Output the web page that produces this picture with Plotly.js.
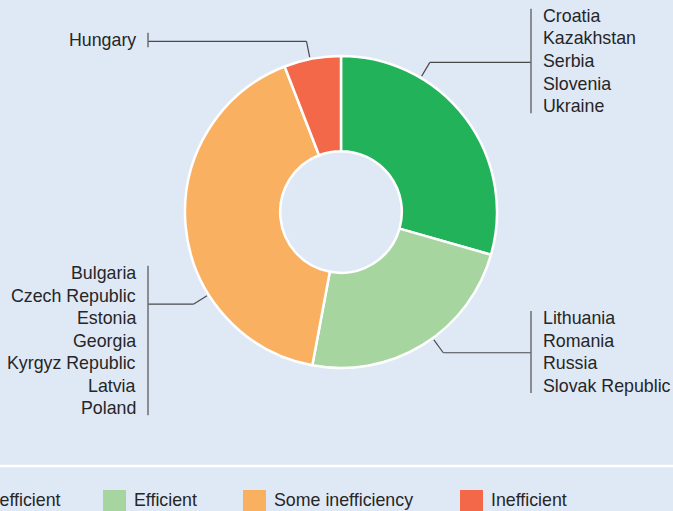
<!DOCTYPE html>
<html><head><meta charset="utf-8">
<script src="https://cdn.plot.ly/plotly-3.0.1.min.js"></script>
<style>html,body{margin:0;padding:0;background:#dfe9f6;overflow:hidden;}#chart{width:673px;height:511px;}</style>
</head><body><div id="chart"></div>
<script>
// ---- data ----
const categories = ['Very efficient', 'Efficient', 'Some inefficiency', 'Inefficient'];
const countryCounts = [5, 4, 7, 1];
const countriesVeryEfficient = ['Croatia', 'Kazakhstan', 'Serbia', 'Slovenia', 'Ukraine'];
const countriesEfficient = ['Lithuania', 'Romania', 'Russia', 'Slovak Republic'];
const countriesSomeInefficiency = ['Bulgaria', 'Czech Republic', 'Estonia', 'Georgia', 'Kyrgyz Republic', 'Latvia', 'Poland'];
const countriesInefficient = ['Hungary'];

// ---- style / layout config ----
const colors = ['#22b259', '#a7d5a0', '#f9b061', '#f26849'];
const groups = [countriesVeryEfficient, countriesEfficient, countriesSomeInefficiency, countriesInefficient];
const W = 673, H = 511, CX = 341, CY = 212, R = 156;
const leaderFrac = [0.29, 0.45, 0.32, 0.46];
const labelSide = ['right', 'right', 'left', 'left'];
const labelCenterY = [61, 352, 340.5, 40];
const bracketX = {right: 531, left: 148};
const textX = {right: 541, left: 138};
const legendSquareX = [-72, 103, 243, 460];
const LINE_H = 22.5;
const FONT = {family: 'Liberation Sans, Arial, sans-serif', size: 17.8, color: '#262626'};

const X = x => x / W;
const Y = y => 1 - y / H;

const shapes = [];
const annotations = [];

const total = countryCounts.reduce((a, b) => a + b, 0);
let cum = 0;
countryCounts.forEach((v, i) => {
  const a0 = cum / total * 360, a1 = (cum + v) / total * 360;
  cum += v;
  const th = (a0 + leaderFrac[i] * (a1 - a0)) * Math.PI / 180;
  const p0 = [CX + (R + 2) * Math.sin(th), CY - (R + 2) * Math.cos(th)];
  const p1 = [CX + (R + 18) * Math.sin(th), CY - (R + 18) * Math.cos(th)];
  const side = labelSide[i];
  const bx = bracketX[side];
  shapes.push({type: 'line', xref: 'paper', yref: 'paper', x0: X(p0[0]), y0: Y(p0[1]), x1: X(p1[0]), y1: Y(p1[1]), line: {color: '#4a4a4a', width: 1.2}});
  shapes.push({type: 'line', xref: 'paper', yref: 'paper', x0: X(p1[0]), y0: Y(p1[1]), x1: X(bx), y1: Y(p1[1]), line: {color: '#4a4a4a', width: 1.2}});
  const n = groups[i].length;
  const half = n * LINE_H / 2 - 4;
  shapes.push({type: 'line', xref: 'paper', yref: 'paper', x0: X(bx), y0: Y(labelCenterY[i] - half), x1: X(bx), y1: Y(labelCenterY[i] + half), line: {color: '#6e6e6e', width: 1.5}});
  groups[i].forEach((name, k) => {
    annotations.push({
      xref: 'paper', yref: 'paper', x: X(textX[side]), y: Y(labelCenterY[i] + (k - (n - 1) / 2) * LINE_H),
      xanchor: side === 'right' ? 'left' : 'right', yanchor: 'middle',
      text: name, showarrow: false, font: FONT
    });
  });
});

// separator line above legend
shapes.push({type: 'line', xref: 'paper', yref: 'paper', x0: 0, x1: 1, y0: Y(466), y1: Y(466), line: {color: '#ffffff', width: 2.5}});

// legend
categories.forEach((c, i) => {
  const sx = legendSquareX[i];
  shapes.push({type: 'rect', xref: 'paper', yref: 'paper', x0: X(sx), x1: X(sx + 23), y0: Y(490), y1: Y(513), fillcolor: colors[i], line: {width: 0}});
  annotations.push({xref: 'paper', yref: 'paper', x: X(sx + 29), y: Y(500), xanchor: 'left', yanchor: 'middle', text: c, showarrow: false, font: FONT});
});

const trace = {
  type: 'pie',
  labels: categories,
  values: countryCounts,
  marker: {colors: colors, line: {color: '#ffffff', width: 2.5}},
  hole: 0.39,
  sort: false,
  direction: 'clockwise',
  rotation: 0,
  textinfo: 'none',
  hoverinfo: 'label+value',
  showlegend: false,
  domain: {x: [X(CX - R), X(CX + R)], y: [Y(CY + R), Y(CY - R)]}
};

const layout = {
  width: W, height: H,
  margin: {l: 0, r: 0, t: 0, b: 0},
  paper_bgcolor: '#dfe9f6',
  plot_bgcolor: '#dfe9f6',
  showlegend: false,
  shapes: shapes,
  annotations: annotations,
  font: FONT
};

Plotly.newPlot('chart', [trace], layout, {displayModeBar: false, staticPlot: true});
</script>
</body></html>
